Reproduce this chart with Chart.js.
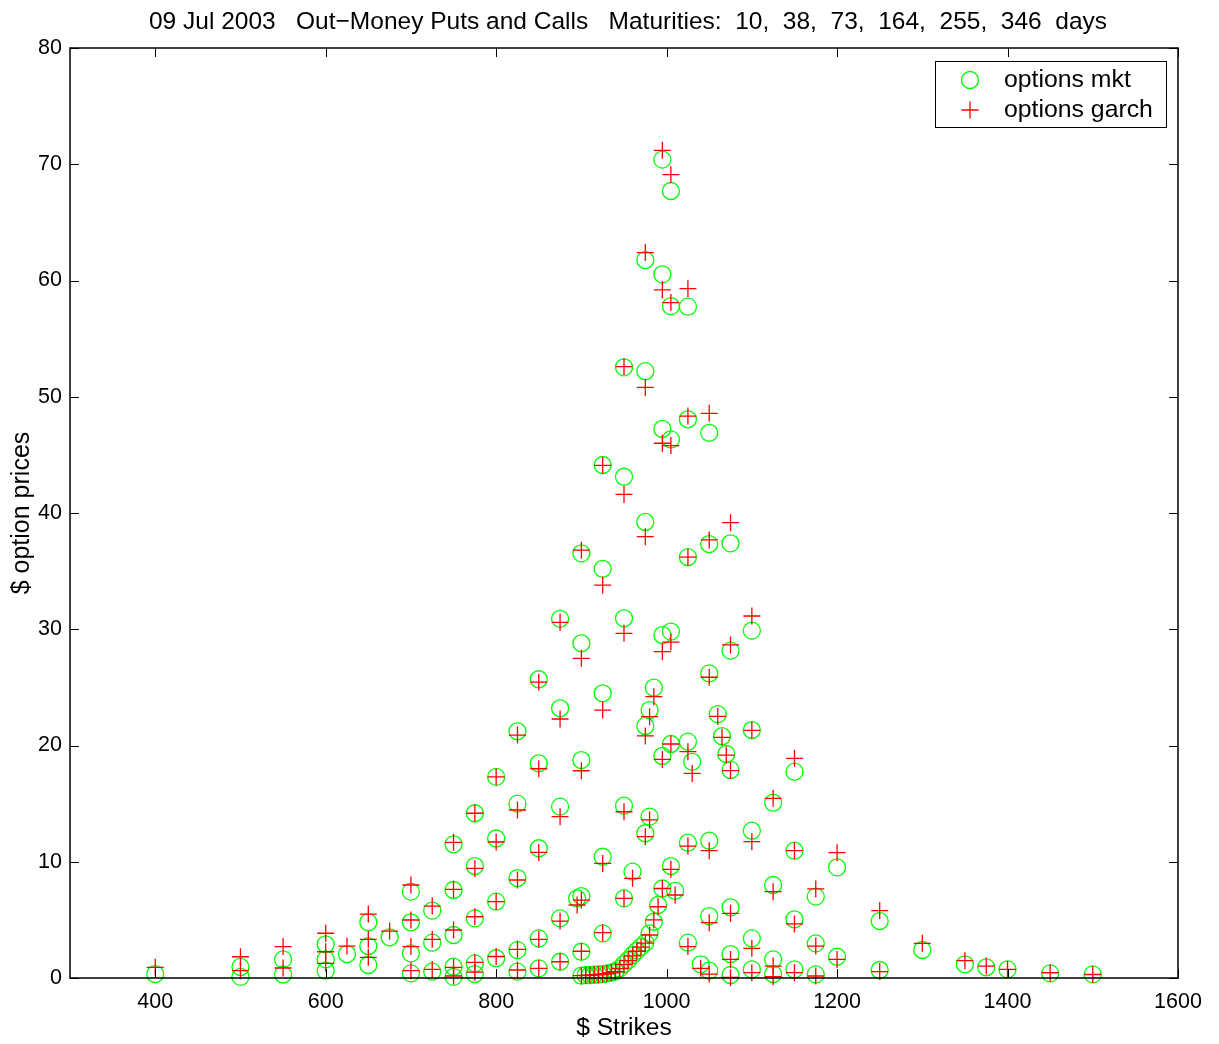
<!DOCTYPE html>
<html>
<head>
<meta charset="utf-8">
<script src="https://cdn.jsdelivr.net/npm/chart.js@4.4.1/dist/chart.umd.min.js"></script>
<style>
  html, body { margin: 0; padding: 0; background: #fff; }
  #wrap { width: 1219px; height: 1044px; }
</style>
</head>
<body>
<div id="wrap"><canvas id="optChart" width="1219" height="1044"></canvas></div>
<script>
// strikes and prices, one entry per plotted option
const strikes = [
  400, 500, 500, 550, 550, 600, 600, 600, 625, 650, 650, 650, 675,
  700, 700, 700, 700, 725, 725, 725, 750, 750, 750, 750, 750,
  775, 775, 775, 775, 775, 800, 800, 800, 800, 825, 825, 825, 825, 825,
  850, 850, 850, 850, 850, 875, 875, 875, 875, 875, 895,
  900, 900, 900, 900, 900, 900, 905, 910, 915, 920,
  925, 925, 925, 925, 925, 925, 930, 935, 940, 945,
  950, 950, 950, 950, 950, 950, 955, 960, 960, 965, 970,
  975, 975, 975, 975, 975, 975, 980, 980, 980, 985, 985, 990,
  995, 995, 995, 995, 995, 995, 1005, 1005, 1005, 1005, 1005, 1005, 1010,
  1025, 1025, 1025, 1025, 1025, 1025, 1030, 1040,
  1050, 1050, 1050, 1050, 1050, 1050, 1060, 1065, 1070,
  1075, 1075, 1075, 1075, 1075, 1075, 1100, 1100, 1100, 1100, 1100,
  1125, 1125, 1125, 1125, 1150, 1150, 1150, 1150, 1175, 1175, 1175,
  1200, 1200, 1250, 1250, 1300, 1350, 1375, 1400, 1450, 1500
];
const mktPrices = [
  0.34, 0.95, 0.1, 1.6, 0.3, 2.9, 1.6, 0.63, 2.06, 4.8, 2.75, 1.12, 3.5,
  7.43, 4.79, 2.12, 0.4, 5.8, 3.04, 0.55, 11.5, 7.57, 3.7, 0.97, 0.1,
  14.17, 9.63, 5.13, 1.26, 0.34, 17.3, 12.0, 6.57, 1.7, 21.22, 15.0, 8.6, 2.4, 0.55,
  25.7, 18.47, 11.16, 3.41, 0.83, 30.9, 23.2, 14.74, 5.13, 1.4, 6.85,
  36.53, 28.79, 18.75, 7.05, 2.26, 0.2, 0.25, 0.26, 0.28, 0.3,
  44.13, 35.2, 24.49, 10.43, 3.84, 0.33, 0.4, 0.47, 0.58, 0.83,
  52.53, 43.12, 30.94, 14.82, 6.85, 1.2, 1.55, 9.15, 1.98, 2.35, 2.7,
  61.76, 52.2, 39.23, 21.68, 12.45, 3.04, 23.05, 13.88, 3.84, 24.97, 4.84, 6.28,
  70.4, 60.53, 47.23, 29.5, 19.1, 7.7, 67.7, 57.8, 46.33, 29.8, 20.13, 9.63, 7.5,
  57.75, 48.06, 36.2, 20.33, 11.64, 3.04, 18.6, 1.18,
  46.9, 37.33, 26.2, 11.81, 5.33, 0.63, 22.7, 20.8, 19.27,
  37.39, 28.16, 17.9, 6.08, 2.06, 0.26, 29.88, 21.33, 12.67, 3.41, 0.74,
  15.08, 8.0, 1.6, 0.34, 17.75, 10.95, 5.05, 0.74, 7.0, 2.98, 0.31,
  9.52, 1.83, 4.9, 0.69, 2.41, 1.18, 0.92, 0.74, 0.4, 0.31
];
const garchPrices = [
  0.92, 1.83, 0.63, 2.7, 0.86, 3.85, 2.26, 1.26, 2.75, 5.5, 3.33, 1.78, 4.04,
  8.0, 4.99, 2.7, 0.63, 6.19, 3.33, 0.74, 11.67, 7.63, 4.13, 0.92, 0.17,
  14.17, 9.43, 5.27, 1.35, 0.5, 17.3, 11.7, 6.57, 1.85, 20.9, 14.45, 8.43, 2.47, 0.69,
  25.45, 18.0, 10.8, 3.33, 0.83, 30.6, 22.28, 13.88, 4.9, 1.4, 6.28,
  36.8, 27.5, 17.83, 6.7, 2.3, 0.2, 0.22, 0.25, 0.27, 0.3,
  44.1, 33.8, 23.05, 9.86, 3.9, 0.33, 0.38, 0.45, 0.55, 0.8,
  52.6, 41.6, 29.65, 14.3, 6.85, 1.15, 1.5, 8.57, 1.9, 2.3, 2.65,
  62.4, 50.8, 37.96, 20.82, 12.16, 3.0, 22.48, 13.6, 3.7, 24.2, 5.0, 6.13,
  71.2, 59.2, 46.0, 28.07, 18.8, 7.7, 69.1, 58.1, 45.8, 28.9, 20.13, 9.35, 7.14,
  59.3, 48.34, 36.2, 19.47, 11.35, 2.7, 17.6, 0.83,
  48.57, 37.68, 25.87, 10.95, 4.76, 0.34, 22.5, 20.7, 19.18,
  39.17, 28.65, 17.84, 5.56, 1.6, 0.05, 31.14, 21.3, 11.73, 2.55, 0.46,
  15.46, 7.43, 1.03, 0.11, 18.9, 10.95, 4.65, 0.46, 7.66, 2.75, 0.17,
  10.78, 1.6, 5.79, 0.55, 2.98, 1.49, 1.03, 0.74, 0.45, 0.3
];
const xTicks = [400, 600, 800, 1000, 1200, 1400, 1600];
const yTicks = [0, 10, 20, 30, 40, 50, 60, 70, 80];

const titleText = '09 Jul 2003   Out\u2212Money Puts and Calls   Maturities:  10,  38,  73,  164,  255,  346  days';
const FONT = '"Liberation Sans", Arial, Helvetica, sans-serif';

// matlab look: boxed axes, ticks pointing inward, legend inside the box
const matlabFrame = {
  id: 'matlabFrame',
  afterDraw(chart) {
    const {ctx, chartArea: {left, top, right, bottom}, scales: {x, y}} = chart;
    ctx.save();
    ctx.strokeStyle = '#000';
    ctx.lineWidth = 1;
    const tl = 9;
    ctx.beginPath();
    xTicks.forEach(v => {
      const px = Math.round(x.getPixelForValue(v)) + 0.5;
      ctx.moveTo(px, bottom); ctx.lineTo(px, bottom - tl);
      ctx.moveTo(px, top); ctx.lineTo(px, top + tl);
    });
    yTicks.forEach(v => {
      const py = Math.round(y.getPixelForValue(v)) + 0.5;
      ctx.moveTo(left, py); ctx.lineTo(left + tl, py);
      ctx.moveTo(right, py); ctx.lineTo(right - tl, py);
    });
    ctx.stroke();
    ctx.lineWidth = 1.5;
    ctx.strokeRect(left, top, right - left, bottom - top);

    // title
    ctx.fillStyle = '#000';
    ctx.font = '24.5px ' + FONT;
    ctx.textAlign = 'center';
    ctx.textBaseline = 'middle';
    ctx.fillText(titleText, 628, 22);

    // legend box
    const lx = 935, ly = 61, lw = 231, lh = 66;
    ctx.fillStyle = '#fff';
    ctx.fillRect(lx, ly, lw, lh);
    ctx.lineWidth = 1;
    ctx.strokeRect(lx + 0.5, ly + 0.5, lw, lh);
    ctx.strokeStyle = '#00ff00';
    ctx.lineWidth = 1.3;
    ctx.beginPath();
    ctx.arc(970, 80, 8.5, 0, Math.PI * 2);
    ctx.stroke();
    ctx.strokeStyle = '#ff0000';
    ctx.beginPath();
    ctx.moveTo(961.5, 110); ctx.lineTo(978.5, 110);
    ctx.moveTo(970, 101.5); ctx.lineTo(970, 118.5);
    ctx.stroke();
    ctx.fillStyle = '#000';
    ctx.textAlign = 'left';
    ctx.font = '24.8px ' + FONT;
    ctx.fillText('options mkt', 1004, 80);
    ctx.fillText('options garch', 1004, 110);
    ctx.restore();
  }
};

const mktPoints = strikes.map((k, i) => ({x: k, y: mktPrices[i]}));
const garchPoints = strikes.map((k, i) => ({x: k, y: garchPrices[i]}));

const ctx = document.getElementById('optChart').getContext('2d');
new Chart(ctx, {
  type: 'scatter',
  data: {
    datasets: [
      {
        label: 'options garch',
        data: garchPoints,
        pointStyle: 'cross',
        radius: 8.5,
        borderColor: '#ff0000',
        borderWidth: 1.3,
        backgroundColor: '#ff0000',
        clip: false,
        order: 0
      },
      {
        label: 'options mkt',
        data: mktPoints,
        pointStyle: 'circle',
        radius: 8.5,
        borderColor: '#00ff00',
        borderWidth: 1.3,
        backgroundColor: 'rgba(0,0,0,0)',
        clip: false,
        order: 1
      }
    ]
  },
  options: {
    responsive: false,
    animation: false,
    layout: { padding: { left: 0, top: 48, right: 41, bottom: 0 } },
    plugins: {
      legend: { display: false },
      title: { display: false },
      tooltip: { enabled: false }
    },
    scales: {
      x: {
        type: 'linear',
        min: 300,
        max: 1600,
        afterBuildTicks: s => { s.ticks = xTicks.map(v => ({value: v})); },
        afterFit: s => { s.height = 66; },
        grid: { display: false, drawTicks: false },
        border: { display: false },
        ticks: { color: '#000', font: { family: FONT, size: 21.5 }, padding: 11, maxRotation: 0,
                 callback: v => String(v) },
        title: { display: true, text: '$ Strikes', color: '#000', font: { family: FONT, size: 24.6 }, padding: { top: 0, bottom: 1 } }
      },
      y: {
        type: 'linear',
        min: 0,
        max: 80,
        afterBuildTicks: s => { s.ticks = yTicks.map(v => ({value: v})); },
        afterFit: s => { s.width = 70; },
        grid: { display: false, drawTicks: false },
        border: { display: false },
        ticks: { color: '#000', font: { family: FONT, size: 21.5 }, padding: 8,
                 callback: v => String(v) },
        title: { display: true, text: '$ option prices', color: '#000', font: { family: FONT, size: 25 }, padding: { top: 7, bottom: 0 } }
      }
    }
  },
  plugins: [matlabFrame]
});
</script>
</body>
</html>
